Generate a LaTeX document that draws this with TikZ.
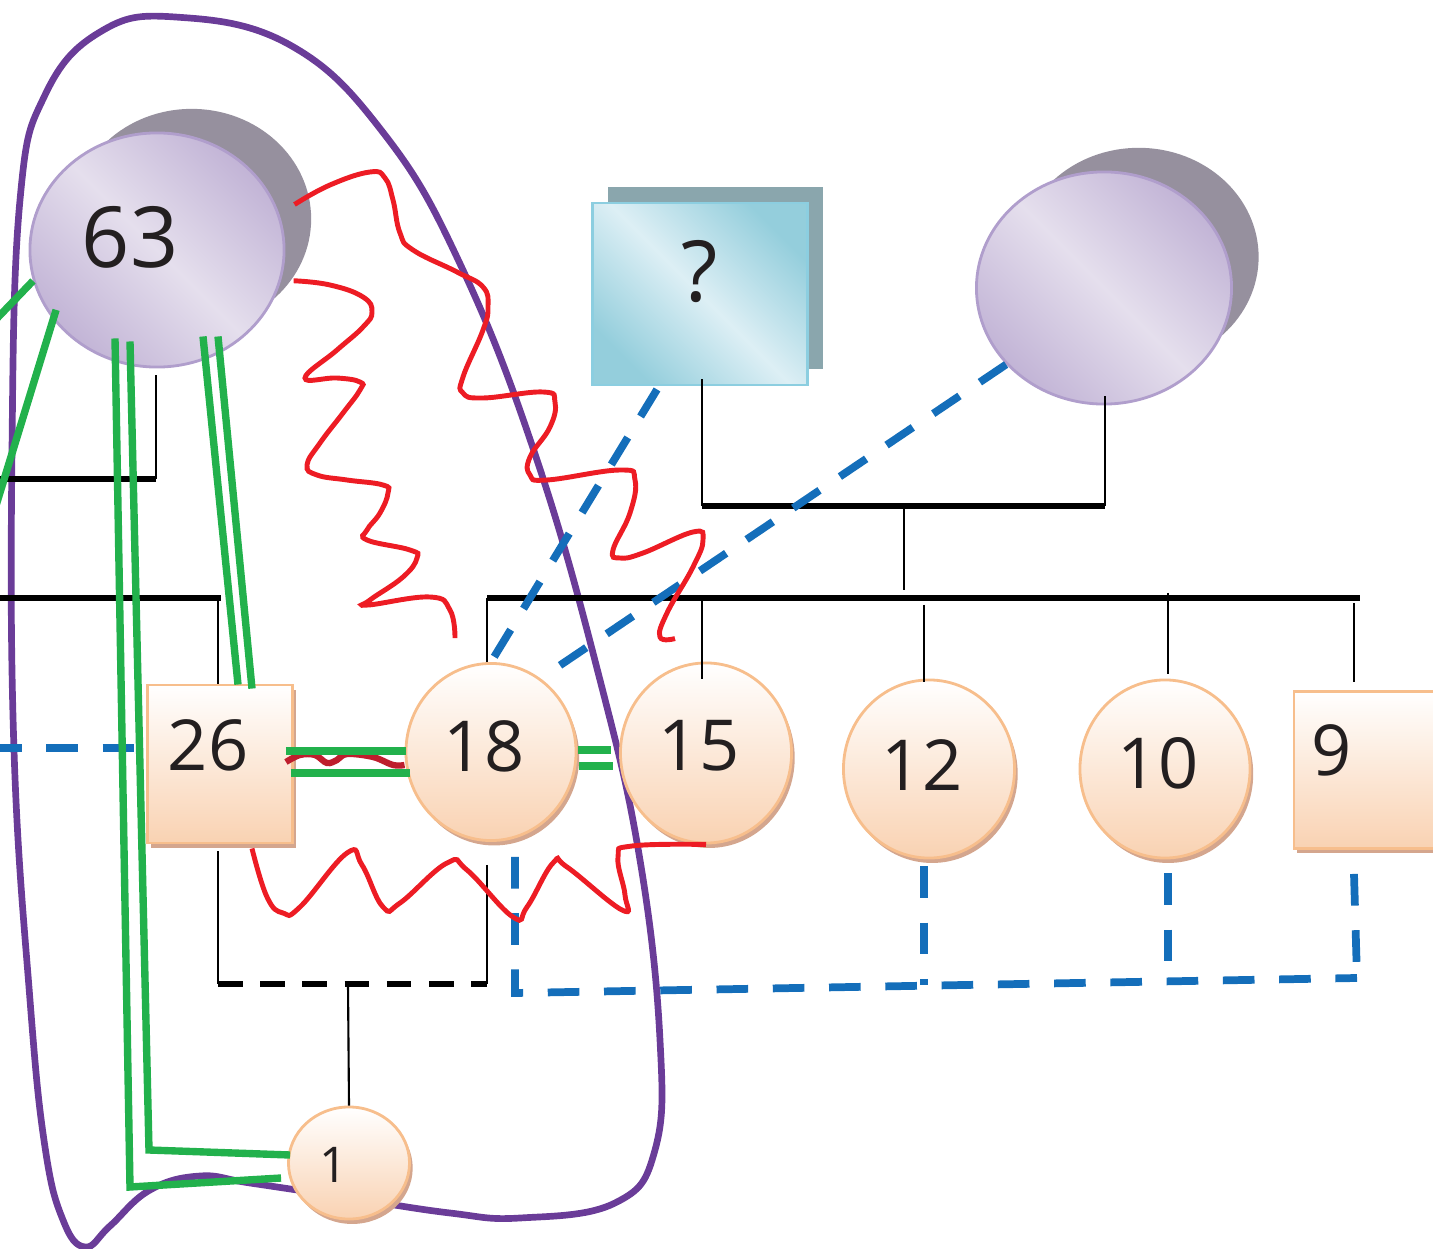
\documentclass[tikz,border=0pt]{standalone}
\usepackage{fontspec}
\setmainfont{Open Sans}
\usetikzlibrary{shapes.geometric,shadows,backgrounds}

\definecolor{lavdark}{RGB}{194,180,214}
\definecolor{lavlight}{RGB}{229,223,237}
\definecolor{lavedge}{RGB}{176,158,204}
\definecolor{greyshade}{RGB}{150,144,158}
\definecolor{qdark}{RGB}{148,206,220}
\definecolor{qlight}{RGB}{221,239,245}
\definecolor{qedge}{RGB}{140,206,224}
\definecolor{qshade}{RGB}{138,166,173}
\definecolor{peach}{RGB}{249,210,178}
\definecolor{peachedge}{RGB}{247,190,140}
\definecolor{peachshade}{RGB}{212,166,142}
\definecolor{kinblue}{RGB}{20,110,186}
\definecolor{bondgreen}{RGB}{34,177,76}
\definecolor{wavered}{RGB}{237,28,36}
\definecolor{darkwave}{RGB}{190,30,45}
\definecolor{ringpurple}{RGB}{106,60,152}
\definecolor{ink}{RGB}{35,31,32}

\tikzset{%
	founder/.style  = {ellipse, draw=lavedge, line width=0.8pt, inner sep=0pt, top color=lavdark, bottom color=lavdark, middle color=lavlight, shading angle=-45,
		drop shadow={shadow xshift=10.5pt, shadow yshift=9.4pt, shadow scale=0.94, fill=greyshade, opacity=1}},
	stranger/.style = {rectangle, draw=qedge, line width=0.8pt, inner sep=0pt, top color=qdark, bottom color=qdark, middle color=qlight, shading angle=-45,
		drop shadow={shadow xshift=4.5pt, shadow yshift=4.5pt, fill=qshade, opacity=1}},
	fem/.style      = {ellipse, draw=peachedge, line width=0.8pt, inner sep=0pt, top color=white, bottom color=peach,
		drop shadow={shadow xshift=0.9pt, shadow yshift=-1.4pt, fill=peachshade, opacity=1}},
	mal/.style      = {rectangle, draw=peachedge, line width=0.8pt, inner sep=0pt, top color=white, bottom color=peach,
		drop shadow={shadow xshift=0.9pt, shadow yshift=-1.4pt, fill=peachshade, opacity=1}},
	bigtxt/.style   = {font=\fontsize{24}{28}\selectfont, text=ink},
	midtxt/.style   = {font=\fontsize{20}{24}\selectfont, text=ink},
	smalltxt/.style = {font=\fontsize{14}{17}\selectfont, text=ink},
	kin/.style      = {line width=0.6pt},
	mating/.style   = {line width=1.6pt},
	kindash/.style  = {kinblue, line width=2.2pt, dash pattern=on 9pt off 7pt},
	bond/.style     = {bondgreen, line width=2.1pt},
	wave/.style     = {wavered, line width=1.4pt},
	darkline/.style = {darkwave, line width=1.8pt},
	ring/.style     = {ringpurple, line width=1.9pt},
}

\begin{document}
\begin{tikzpicture}[x=0.01cm,y=-0.01cm]
	\useasboundingbox (0,0) rectangle (1433,1249);

	% people
	\node[founder, minimum width=2.54cm, minimum height=2.34cm, label={[bigtxt,shift={(-27,-13)}]center:63}] (n63) at (157,250) {};
	\node[founder, minimum width=2.55cm, minimum height=2.32cm] (nright) at (1104,288) {};
	\node[stranger, minimum width=2.15cm, minimum height=1.82cm, label={[bigtxt,shift={(0,-22)}]center:?}] (nq) at (700,294) {};
	\node[mal, minimum width=1.45cm, minimum height=1.58cm, label={[midtxt,shift={(-12,-19)}]center:26}] (n26) at (220,764) {};
	\node[fem, minimum width=1.70cm, minimum height=1.77cm, label={[midtxt,shift={(-7,-6)}]center:18}] (n18) at (491,752) {};
	\node[fem, minimum width=1.71cm, minimum height=1.80cm, label={[midtxt,shift={(-7,-7)}]center:15}] (n15) at (706,753) {};
	\node[fem, minimum width=1.71cm, minimum height=1.78cm, label={[midtxt,shift={(-7,-4)}]center:12}] (n12) at (929,769) {};
	\node[fem, minimum width=1.70cm, minimum height=1.78cm, label={[midtxt,shift={(-7,-6)}]center:10}] (n10) at (1165,769) {};
	\node[mal, minimum width=1.46cm, minimum height=1.57cm, label={[midtxt,shift={(-35,-20)}]center:9}] (n9) at (1367,770) {};
	\node[fem, minimum width=1.21cm, minimum height=1.12cm, label={[smalltxt,shift={(-15,2)}]center:1}] (n1) at (349,1163) {};

	\begin{scope}[on background layer]
	\draw[ring] plot[smooth cycle, tension=0.7] coordinates {(175,17) (290,45) (385,135) (462,268) (537,460) (600,680) (640,860) (660,1040) (655,1150) (615,1203) (520,1218) (450,1213) (350,1198) (250,1183) (200,1176) (150,1190) (110,1226) (85,1247) (63,1220) (45,1147) (30,1000) (14,750) (12,450) (20,200) (45,95) (100,32)};
	\end{scope}

	% pedigree lines
	\draw[kin] ([shift={(-1,7)}]n63.south) -- (156,479);
	\draw[mating] (156,479) -- (-10,479);
	\draw[mating] (-10,598) -- (221,598);
	\draw[kin] ([shift={(-2,0)}]n26.north |- 0,598) -- ([shift={(-2,0)}]n26.north);
	\draw[mating] ([shift={(-4,0)}]n18.north |- 0,598) -- (1360,598);
	\draw[kin] ([shift={(-4,0)}]n18.north |- 0,598) -- ([shift={(-4,0)}]n18.north);
	\draw[kin] (702,598) -- ([shift={(-4,17)}]n15.north);
	\draw[kin] (924,605) -- ([shift={(-5,3)}]n12.north);
	\draw[kin] (1168,593) -- ([shift={(3,-5)}]n10.north);
	\draw[kin] (1354,603) -- ([shift={(-13,-8)}]n9.north);
	\draw[kin] ([shift={(2,-7)}]nq.south) -- (702,506);
	\draw[mating] (702,506) -- (1105,506);
	\draw[kin] ([shift={(1,-9)}]nright.south) -- (1105,506);
	\draw[kin] (904,508) -- (904,590);
	\draw[kin] ([shift={(-2,7)}]n26.south) -- (218,984);
	\draw[kin] ([shift={(-4,23)}]n18.south) -- (487,984);
	\draw[mating, dash pattern=on 7pt off 5pt] (218,984) -- (487,984);
	\draw[kin] (348,984) -- (n1.north);

	% blue dashed
	\draw[kindash] (-10,748) -- ([shift={(0,-16)}]n26.west);
	\draw[kindash] ([shift={(66,3)}]nq.south west) -- (n18.north);
	\draw[kindash] (nright.218) -- (n18.56);
	\draw[kindash] ([shift={(24,15)}]n18.south) -- (515,993) -- (1357,978);
	\draw[kindash] ([shift={(-5,7)}]n12.south) -- (924,985);
	\draw[kindash] ([shift={(3,14)}]n10.south) -- (1168,983);
	\draw[kindash] ([shift={(-13,24)}]n9.south) -- (1357,978);

	% red
	\draw[darkline] plot[smooth, tension=0.6] coordinates {([shift={(-8,-2)}]n26.east) (300,755) (315,755) (327,763) (337,760) (347,754) (373,757) (393,765) ([shift={(0,13)}]n18.west)};
	\draw[wave] plot[smooth, tension=0.75] coordinates {([shift={(18,-2)}]n63.20) (330,185) (370,172) (385,178) (393,200) (400,233) (413,250) (457,272) (483,287) (488,307) (483,330) (463,377) (463,393) (483,398) (543,392) (555,402) (550,427) (530,457) (530,475) (547,480) (620,470) (635,480) (630,513) (613,550) (620,558) (643,553) (693,532) (703,540) (693,567) (667,613) (660,637) ([shift={(-31,-23)}]n15.north)};
	\draw[wave] plot[smooth, tension=0.75] coordinates {([shift={(12,2)}]n63.-13) (330,285) (363,297) (372,312) (363,327) (337,350) (305,378) (337,378) (360,382) (360,390) (343,413) (320,443) (307,465) (317,475) (347,480) (383,485) (388,493) (380,513) (367,530) (367,540) (410,550) (417,558) (403,577) (370,600) (368,605) (430,597) (450,610) ([shift={(-36,-24)}]n18.north)};
	\draw[wave] plot[smooth, tension=0.75] coordinates {([shift={(32,4)}]n26.south) (267,897) (283,913) (300,907) (347,853) (362,865) (383,907) (400,903) (447,863) (467,870) (513,917) (527,907) (553,863) (567,867) (622,910) (625,895) (618,857) (632,846) (n15.south)};

	% green
	\draw[bond] (n63.194) -- ++(-50,52);
	\draw[bond] ([shift={(8,-3)}]n63.210) -- ++(-70,228);
	\draw[bond] ([shift={(-42,-30)}]n63.south) -- (130,1187) -- ([shift={(-6,15)}]n1.west);
	\draw[bond] ([shift={(-27,-27)}]n63.south) -- (149,1150) -- ([shift={(3,-8)}]n1.west);
	\draw[bond] ([shift={(46,-32)}]n63.south) -- ([shift={(18,1)}]n26.north);
	\draw[bond] ([shift={(61,-32)}]n63.south) -- ([shift={(32,5)}]n26.north);
	\draw[bond] ([shift={(-8,-13)}]n26.east) -- ([shift={(1,-1)}]n18.west);
	\draw[bond] ([shift={(-3,9)}]n26.east) -- ([shift={(5,21)}]n18.west);
	\draw[bond] ([shift={(1,-2)}]n18.east) -- ([shift={(-8,-3)}]n15.west);
	\draw[bond] ([shift={(2,14)}]n18.east) -- ([shift={(-6,13)}]n15.west);
\end{tikzpicture}
\end{document}
